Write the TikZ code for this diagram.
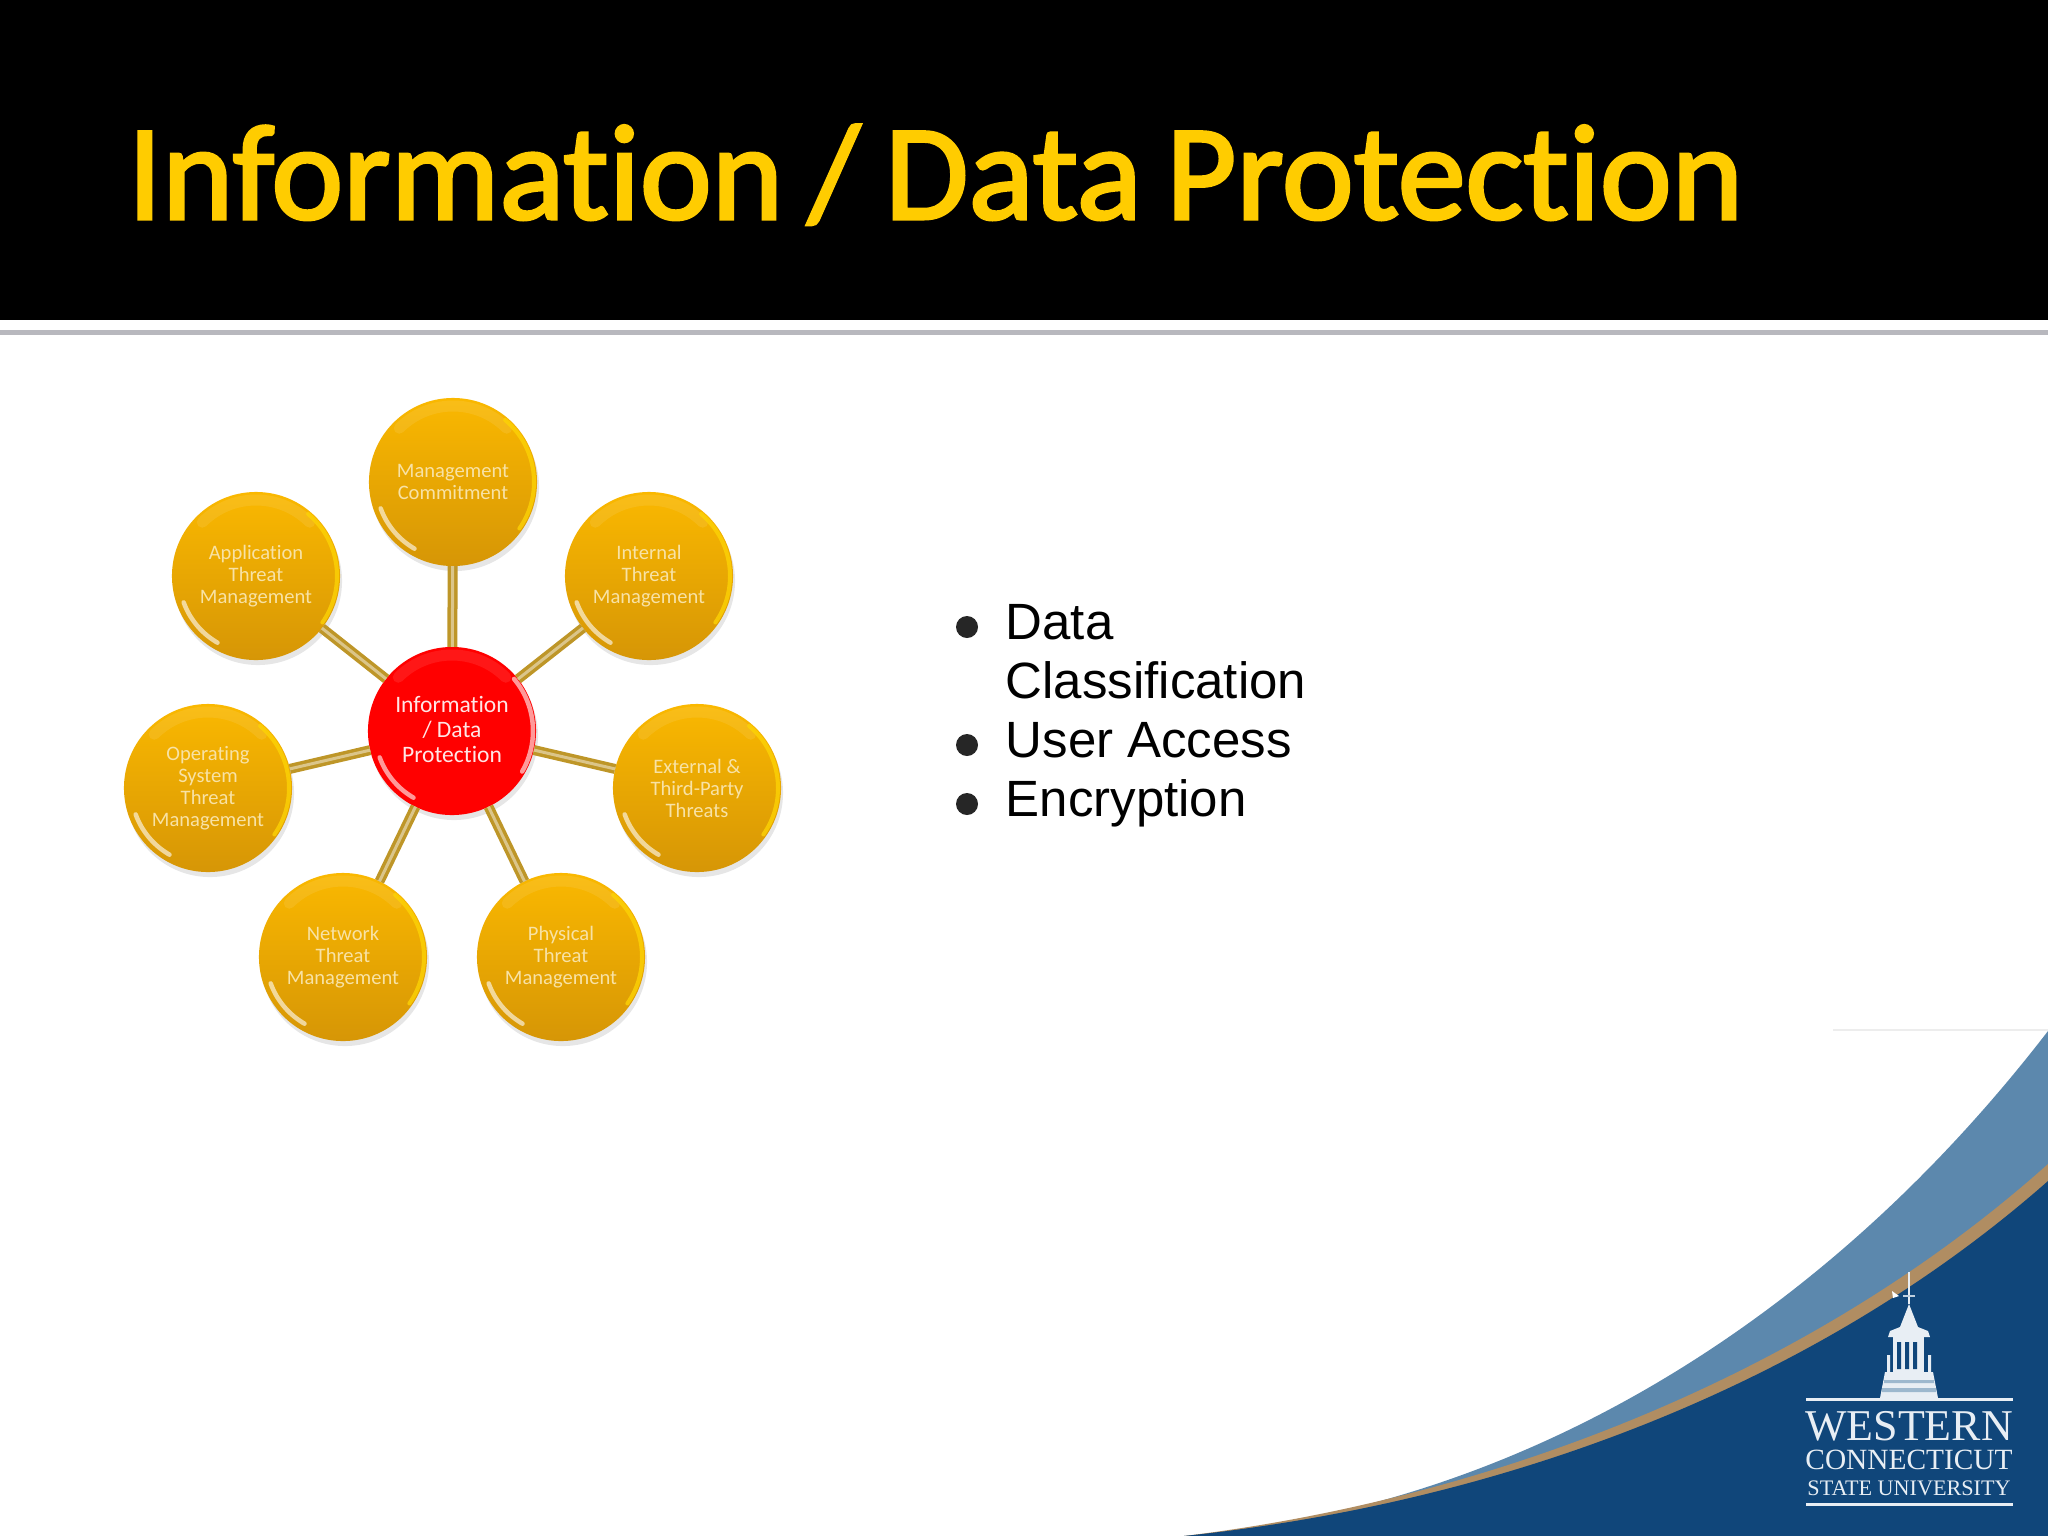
\documentclass[tikz,border=0pt]{standalone}
\usepackage{fontspec}
\setmainfont{Liberation Sans}
\newfontfamily\bubblefont[Ligatures=NoCommon]{Carlito}
\newfontfamily\titlefont[Ligatures=NoCommon, FakeBold=2.2, WordSpace=0.8]{Carlito}
\newfontfamily\crestfont{Liberation Serif}
\usepackage{xcolor}
\usepackage{tikz}
\usetikzlibrary{arrows.meta, positioning, calc, shadows}
\definecolor{titlegold}{RGB}{255,204,0}
\definecolor{rulegray}{RGB}{184,184,190}
\definecolor{bubbletop}{RGB}{250,184,0}
\definecolor{bubblelow}{RGB}{214,150,6}
\definecolor{spokegold}{RGB}{190,150,40}
\definecolor{labelcream}{RGB}{248,226,165}
\definecolor{wavemid}{RGB}{92,136,173}
\definecolor{wavetan}{RGB}{176,141,98}
\definecolor{wavedark}{RGB}{16,70,122}
\definecolor{crestwhite}{RGB}{232,238,244}

\begin{document}
\begin{tikzpicture}[x=0.01cm, y=-0.01cm,
      bubble/.style={circle, minimum size=1.68cm, inner sep=0pt, outer sep=0pt, align=center,
        top color=bubbletop, bottom color=bubblelow, text=labelcream,
        font=\bubblefont\fontsize{5.85}{6.25}\selectfont,
        drop shadow={shadow xshift=0.2mm, shadow yshift=-0.5mm, opacity=.2}},
      hub/.style={bubble, top color=red, bottom color=red, text=white!90!red, text depth=0.3mm,
        font=\bubblefont\fontsize{6.7}{7.1}\selectfont},
      spoke/.style={draw=spokegold, double=spokegold!55!white, double distance=0.3mm, line width=0.35mm},
      rimwhite/.style={white, line width=0.45mm, line cap=round, opacity=.6},
      rimyellow/.style={yellow!70!orange, line width=0.4mm, line cap=round, opacity=.8},
      rimtop/.style={white, line width=1.1mm, line cap=round, opacity=.09},
      item/.style={anchor=base west, inner sep=0pt, font=\fontsize{14.5}{14.5}\selectfont},
      dot/.style={circle, fill=black!85, minimum size=0.22cm, inner sep=0pt},
      crest/.style={inner sep=0pt, anchor=base, text=crestwhite}]
    \useasboundingbox (0,0) rectangle (2048,1536);
    % slide head
    \fill[black] (0,0) rectangle (2048,320);
    \fill[rulegray] (0,330) rectangle (2048,335);
    \node[anchor=base west, inner sep=0pt, text=titlegold, font=\titlefont\fontsize{38.7}{38.7}\selectfont] (title) at (127,219) {Information / Data Protection};
    % wave in the corner
    \fill[wavemid] (1184,1536) .. controls (1500,1510) and (1810,1340) .. (2048,1031) -- (2048,1536) -- cycle;
    \fill[wavetan] (1184,1536) .. controls (1505,1497) and (1820,1368) .. (2048,1164) -- (2048,1536) -- cycle;
    \fill[wavedark] (1184,1536) .. controls (1510,1502) and (1820,1382) .. (2048,1181) -- (2048,1536) -- cycle;
    \draw[black!7] (1833,1030) -- (2048,1030);
    % tower
    \fill[crestwhite] (1880,1398) -- (1885,1372) -- (1933,1372) -- (1938,1398) -- cycle;
    \fill[wavemid!60!white] (1884,1380) rectangle (1934,1383) (1882,1388) rectangle (1936,1392);
    \fill[crestwhite] (1893,1337) rectangle (1924,1372);
    \fill[wavedark] \foreach \gapx in {1897,1905,1913} {(\gapx,1342) rectangle ++(4,27)};
    \fill[crestwhite] (1888,1337) -- (1930,1337) -- (1928,1331) -- (1918,1327) -- (1909,1304) -- (1900,1327) -- (1890,1331) -- cycle;
    \fill[crestwhite] (1887,1372) rectangle (1890,1355) (1928,1372) rectangle (1931,1355);
    \draw[crestwhite, line width=0.2mm] (1909,1304) -- (1909,1272);
    \draw[crestwhite!70!wavemid, line width=0.15mm] (1903,1296) -- (1915,1296);
    \fill[white] (1892,1291) -- (1899,1296) -- (1893,1298) -- cycle;
    % crest lettering
    \draw[crestwhite, line width=0.3mm] (1806,1399) -- (2013,1399);
    \draw[crestwhite, line width=0.3mm] (1806,1504) -- (2013,1504);
    \node[crest, font=\crestfont\fontsize{12.5}{12.5}\selectfont] (western) at (1909,1440) {WESTERN};
    \node[crest, font=\crestfont\fontsize{8.35}{8.35}\selectfont] (connecticut) at (1909,1469) {CONNECTICUT};
    \node[crest, font=\crestfont\fontsize{6.3}{6.3}\selectfont] (state) at (1909,1495) {STATE UNIVERSITY};
    % the wheel
    \node[hub] (info) at (452,731) {Information\\/ Data\\Protection};
    \foreach \id/\px/\py/\lbl in {
        mgmt/453/482/{Management\\Commitment},
        internal/649/576/{Internal\\Threat\\Management},
        external/697/788/{External \&\\Third-Party\\Threats},
        physical/561/957/{Physical\\Threat\\Management},
        network/343/957/{Network\\Threat\\Management},
        opsys/208/788/{Operating\\System\\Threat\\Management},
        app/256/576/{Application\\Threat\\Management}} {
      \node[bubble] (\id) at (\px,\py) {\lbl};
      \draw[spoke] (info) -- (\id);
      \draw[rimtop] ($(\id)+(225:76)$) arc[start angle=225, end angle=315, radius=76];
      \draw[rimyellow] ($(\id)+(-50:81)$) arc[start angle=-50, end angle=35, radius=81];
      \draw[rimwhite] ($(\id)+(120:77)$) arc[start angle=120, end angle=160, radius=77];
    }
    \draw[rimtop] ($(info)+(225:76)$) arc[start angle=225, end angle=315, radius=76];
    \draw[rimwhite] ($(info)+(-40:81)$) arc[start angle=-40, end angle=30, radius=81];
    \draw[rimwhite] ($(info)+(120:77)$) arc[start angle=120, end angle=160, radius=77];
    % bullet list
    \node[item] (data) at (1005,639) {Data};
    \node[item] (classif) at (1005,698) {Classification};
    \node[item] (access) at (1005,757) {User Access};
    \node[item] (crypt) at (1005,816) {Encryption};
    \node[dot] (dota) at (967,627) {};
    \node[dot] (dotb) at (967,745) {};
    \node[dot] (dotc) at (967,804) {};
  \end{tikzpicture}
\end{document}
